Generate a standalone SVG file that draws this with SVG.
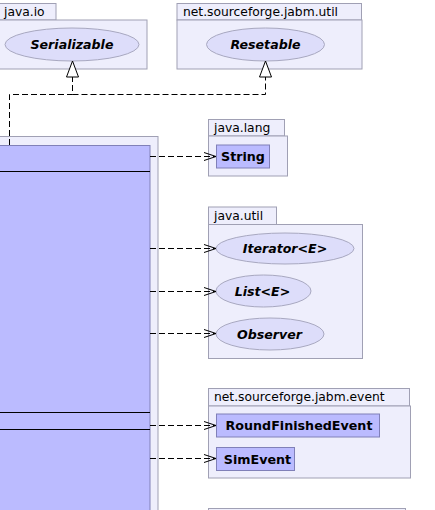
<svg xmlns="http://www.w3.org/2000/svg" width="435" height="510" viewBox="0 0 435 510">
  <defs>
    <marker id="open" markerWidth="14" markerHeight="10" refX="13" refY="5" orient="auto" markerUnits="userSpaceOnUse">
      <path d="M1,1 L13,5 L1,9" fill="none" stroke="#000" stroke-width="1"/>
    </marker>
    <marker id="realize" markerWidth="18" markerHeight="14" refX="17" refY="7" orient="auto" markerUnits="userSpaceOnUse">
      <path d="M1,1 L17,7 L1,13 Z" fill="#fff" stroke="#000" stroke-width="1"/>
    </marker>
  </defs>
  <style>
    .pkg { fill: #eeeefc; stroke: #a0a0b4; stroke-width: 1; }
    .cls { fill: #bbbbff; stroke: #8080b8; stroke-width: 1; }
    .ifc { fill: #ddddfa; stroke: #a8a8c0; stroke-width: 1; }
    .plabel { font-family: "DejaVu Sans", sans-serif; font-size: 12.3px; fill: #000; }
    .cname { font-family: "DejaVu Sans", sans-serif; font-size: 12.7px; font-weight: bold; fill: #000; text-anchor: middle; }
    .iname { font-family: "DejaVu Sans", sans-serif; font-size: 12.6px; font-weight: bold; font-style: italic; fill: #000; text-anchor: middle; }
    .dep { fill: none; stroke: #000; stroke-width: 1; stroke-dasharray: 6,3; }
    .sep { stroke: #000; stroke-width: 1; }
  </style>

  <!-- java.io -->
  <g id="pkg-java-io">
    <rect class="pkg" x="-10" y="3.5" width="66" height="16.5"/>
    <rect class="pkg" x="-10" y="20" width="157" height="49"/>
    <text class="plabel" x="4" y="16">java.io</text>
    <g id="Serializable">
      <ellipse class="ifc" cx="72" cy="44.5" rx="67" ry="16.5"/>
      <text class="iname" x="72" y="49">Serializable</text>
    </g>
  </g>

  <!-- net.sourceforge.jabm.util -->
  <g id="pkg-jabm-util">
    <rect class="pkg" x="177" y="3.5" width="184.5" height="16.5"/>
    <rect class="pkg" x="177" y="20" width="185" height="49"/>
    <text class="plabel" x="183" y="16">net.sourceforge.jabm.util</text>
    <g id="Resetable">
      <ellipse class="ifc" cx="265.5" cy="44.5" rx="59" ry="16.5"/>
      <text class="iname" x="265.5" y="49">Resetable</text>
    </g>
  </g>

  <!-- enclosing package of the main class -->
  <g id="pkg-main">
    <rect class="pkg" x="-10" y="136.5" width="168" height="390"/>
    <g id="main-class">
      <rect class="cls" x="-10" y="145.5" width="160" height="380"/>
      <line class="sep" x1="-10" y1="171.5" x2="150" y2="171.5"/>
      <line class="sep" x1="-10" y1="412.5" x2="150" y2="412.5"/>
      <line class="sep" x1="-10" y1="429.5" x2="150" y2="429.5"/>
    </g>
  </g>

  <!-- java.lang -->
  <g id="pkg-java-lang">
    <rect class="pkg" x="208.5" y="119.5" width="76" height="16.5"/>
    <rect class="pkg" x="208.5" y="136" width="79" height="40"/>
    <text class="plabel" x="214" y="132">java.lang</text>
    <g id="String">
      <rect class="cls" x="216.5" y="145" width="53" height="23"/>
      <text class="cname" x="243" y="161">String</text>
    </g>
  </g>

  <!-- java.util -->
  <g id="pkg-java-util">
    <rect class="pkg" x="208.5" y="207" width="68" height="17.5"/>
    <rect class="pkg" x="208.5" y="224.5" width="154" height="134"/>
    <text class="plabel" x="214" y="220">java.util</text>
    <g id="Iterator">
      <ellipse class="ifc" cx="285" cy="248.5" rx="69" ry="15.5"/>
      <text class="iname" x="285" y="253">Iterator&lt;E&gt;</text>
    </g>
    <g id="List">
      <ellipse class="ifc" cx="263.5" cy="291" rx="47.5" ry="16"/>
      <text class="iname" x="262.5" y="295.5">List&lt;E&gt;</text>
    </g>
    <g id="Observer">
      <ellipse class="ifc" cx="270" cy="334" rx="54" ry="16"/>
      <text class="iname" x="269.5" y="338.5">Observer</text>
    </g>
  </g>

  <!-- net.sourceforge.jabm.event -->
  <g id="pkg-jabm-event">
    <rect class="pkg" x="208.5" y="388.5" width="201" height="17.5"/>
    <rect class="pkg" x="208.5" y="406" width="202" height="72"/>
    <text class="plabel" x="214" y="401">net.sourceforge.jabm.event</text>
    <g id="RoundFinishedEvent">
      <rect class="cls" x="216.5" y="414" width="163" height="23"/>
      <text class="cname" x="299" y="430">RoundFinishedEvent</text>
    </g>
    <g id="SimEvent">
      <rect class="cls" x="216.5" y="447.5" width="78" height="23"/>
      <text class="cname" x="257.5" y="463.5">SimEvent</text>
    </g>
  </g>

  <!-- next package, cut off at the bottom edge -->
  <g id="pkg-next">
    <rect class="pkg" x="208.5" y="508.5" width="197" height="20"/>
  </g>

  <!-- connectors -->
  <g id="connectors">
    <path class="dep" d="M9.5,145 V94.5 H72.5 V61" marker-end="url(#realize)"/>
    <path class="dep" d="M72.5,94.5 H265.5 V61" marker-end="url(#realize)"/>
    <line class="dep" x1="150" y1="156.5" x2="216" y2="156.5" marker-end="url(#open)"/>
    <line class="dep" x1="150" y1="248.5" x2="216" y2="248.5" marker-end="url(#open)"/>
    <line class="dep" x1="150" y1="291.5" x2="216" y2="291.5" marker-end="url(#open)"/>
    <line class="dep" x1="150" y1="333.5" x2="216" y2="333.5" marker-end="url(#open)"/>
    <line class="dep" x1="150" y1="425.5" x2="216" y2="425.5" marker-end="url(#open)"/>
    <line class="dep" x1="150" y1="458.5" x2="216" y2="458.5" marker-end="url(#open)"/>
  </g>
</svg>
